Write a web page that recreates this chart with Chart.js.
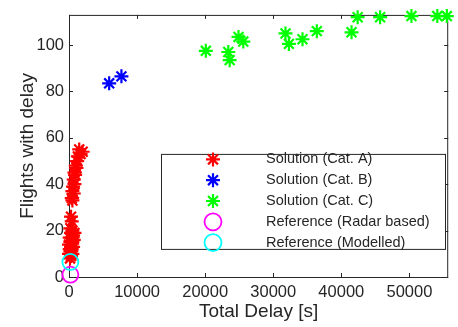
<!DOCTYPE html>
<html>
<head>
<meta charset="utf-8">
<script src="https://cdn.jsdelivr.net/npm/chart.js@4.4.0/dist/chart.umd.min.js"></script>
<style>
  body { margin: 0; background: #fff; }
</style>
</head>
<body>
<canvas id="myChart" width="458" height="327"></canvas>
<script>
// Data (x = total delay in s, y = flights with delay)
const catA_x = [1500, 2000, 1700, 1300, 1200, 1000, 1100, 800, 900, 700, 800, 600, 500, 700, 400, 500, 300, 400, 200, 500, 800, 300, 600, 100, 400, 700, 200, 500, 0, 300, 600, 100, 400, 200, 500, 0, 300, 150];
const catA_y = [55, 54, 53, 52, 50, 48, 47, 45, 44, 42, 40, 39, 37, 36, 34, 33, 26, 24, 21, 20, 19, 19, 18, 17, 17, 16, 15, 15, 14, 13, 13, 12, 12, 11, 10, 10, 9, 8];
const catB_x = [5900, 7700];
const catB_y = [83.5, 86.5];
const catC_x = [20100, 23400, 23600, 24900, 25600, 31800, 32300, 34300, 36400, 41500, 42400, 45700, 50300, 54100, 55500];
const catC_y = [97.5, 97, 93.5, 103.5, 101.5, 105, 100.5, 102.5, 106, 105.5, 112, 112, 112.5, 112.5, 112.5];
const radar_x = [200];
const radar_y = [1];
const model_x = [200];
const model_y = [6.5];

const seriesLabels = ['Solution (Cat. A)', 'Solution (Cat. B)', 'Solution (Cat. C)', 'Reference (Radar based)', 'Reference (Modelled)'];
const seriesColors = ['#ff0000', '#0000ff', '#00ff00', '#ff00ff', '#00ffff'];
const xTicks = [0, 10000, 20000, 30000, 40000, 50000];
const yTicks = [0, 20, 40, 60, 80, 100];

const toPoints = (xs, ys) => xs.map((x, i) => ({ x: x, y: ys[i] }));
const textColor = '#262626';
const fontFamily = '"Liberation Sans", Arial, sans-serif';

function starSet(i, xs, ys) {
    return {
        label: seriesLabels[i],
        data: toPoints(xs, ys),
        pointStyle: 'star',
        pointRadius: 7,
        pointBorderWidth: 2.2,
        borderColor: seriesColors[i],
        backgroundColor: seriesColors[i],
        order: 5 - i,
        clip: false
    };
}
function circleSet(i, xs, ys) {
    return {
        label: seriesLabels[i],
        data: toPoints(xs, ys),
        pointStyle: 'circle',
        pointRadius: 8,
        pointBorderWidth: 1.8,
        borderColor: seriesColors[i],
        backgroundColor: 'rgba(0,0,0,0)',
        order: 5 - i,
        clip: false
    };
}

// box around the axes with inward ticks (MATLAB style)
const axisBox = {
    id: 'axisBox',
    beforeDatasetsDraw(chart) {
        const { ctx, chartArea: a, scales: { x, y } } = chart;
        ctx.save();
        ctx.strokeStyle = textColor;
        ctx.lineWidth = 1;
        ctx.strokeRect(a.left + 0.5, a.top + 0.5, a.right - a.left - 1, a.bottom - a.top);
        ctx.beginPath();
        xTicks.forEach(v => {
            const px = Math.round(x.getPixelForValue(v)) + 0.5;
            ctx.moveTo(px, a.bottom); ctx.lineTo(px, a.bottom - 4);
            ctx.moveTo(px, a.top); ctx.lineTo(px, a.top + 4);
        });
        yTicks.forEach(v => {
            const py = Math.round(y.getPixelForValue(v)) + 0.5;
            ctx.moveTo(a.left, py); ctx.lineTo(a.left + 4, py);
            ctx.moveTo(a.right, py); ctx.lineTo(a.right - 4, py);
        });
        ctx.stroke();
        ctx.restore();
    }
};

// legend box inside the plot, lower right
const boxLegend = {
    id: 'boxLegend',
    afterDatasetsDraw(chart) {
        const { ctx, chartArea: a } = chart;
        const left = a.left + 92, top = a.top + 139;
        const w = 284, h = 95;
        ctx.save();
        ctx.fillStyle = '#ffffff';
        ctx.fillRect(left, top, w, h);
        ctx.strokeStyle = textColor;
        ctx.lineWidth = 1;
        ctx.strokeRect(left + 0.5, top + 0.5, w, h);
        ctx.font = '14.5px ' + fontFamily;
        ctx.textBaseline = 'middle';
        chart.data.datasets.forEach((ds, i) => {
            const cy = top + 5.5 + i * 20.8;
            ctx.strokeStyle = ds.borderColor;
            ctx.fillStyle = ds.backgroundColor;
            ctx.lineWidth = ds.pointBorderWidth;
            Chart.helpers.drawPoint(ctx, {
                pointStyle: ds.pointStyle,
                radius: ds.pointStyle === 'circle' ? 8.5 : 7,
                borderWidth: ds.pointBorderWidth,
                rotation: 0
            }, left + 52, cy);
            ctx.fillStyle = textColor;
            ctx.fillText(ds.label, left + 105, cy);
        });
        ctx.restore();
    }
};

var ctx = document.getElementById('myChart').getContext('2d');

var myChart = new Chart(ctx, {
    type: 'scatter',
    data: {
        datasets: [
            starSet(0, catA_x, catA_y),
            starSet(1, catB_x, catB_y),
            starSet(2, catC_x, catC_y),
            circleSet(3, radar_x, radar_y),
            circleSet(4, model_x, model_y)
        ]
    },
    options: {
        responsive: false,
        animation: false,
        layout: { padding: { top: 14, right: 2, left: 0, bottom: 0 } },
        plugins: {
            legend: { display: false },
            tooltip: { enabled: false }
        },
        scales: {
            x: {
                type: 'linear',
                min: 0,
                max: 55700,
                afterFit: s => { s.height = 50; },
                afterBuildTicks: s => { s.ticks = xTicks.map(v => ({ value: v })); },
                grid: { display: false, drawTicks: false },
                border: { display: false },
                ticks: {
                    padding: 6,
                    color: textColor,
                    maxRotation: 0,
                    callback: v => String(v),
                    font: { family: fontFamily, size: 16.5 }
                },
                title: {
                    display: true,
                    text: 'Total Delay [s]',
                    color: textColor,
                    padding: { top: 0, bottom: 3.5 },
                    font: { family: fontFamily, size: 19 }
                }
            },
            y: {
                type: 'linear',
                min: 0,
                max: 113,
                afterFit: s => { s.width = 69; },
                afterBuildTicks: s => { s.ticks = yTicks.map(v => ({ value: v })); },
                grid: { display: false, drawTicks: false },
                border: { display: false },
                ticks: {
                    padding: 5,
                    color: textColor,
                    callback: v => String(v),
                    font: { family: fontFamily, size: 16.5 }
                },
                title: {
                    display: true,
                    text: 'Flights with delay',
                    color: textColor,
                    padding: { top: 16, bottom: 0 },
                    font: { family: fontFamily, size: 19 }
                }
            }
        }
    },
    plugins: [axisBox, boxLegend]
});
</script>
</body>
</html>
